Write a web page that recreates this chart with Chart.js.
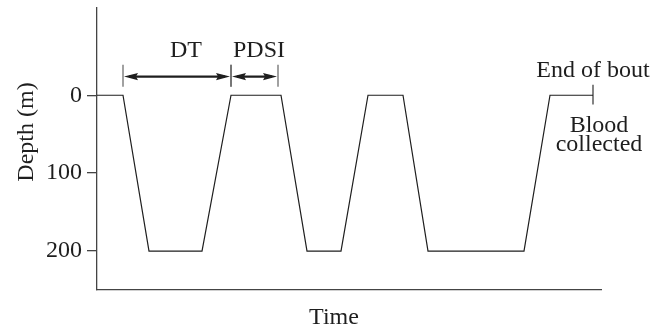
<!DOCTYPE html>
<html><head><meta charset="utf-8">
<script src="https://cdn.jsdelivr.net/npm/chart.js@4/dist/chart.umd.min.js"></script>
<style>html,body{margin:0;padding:0;background:#fff}</style>
</head><body>
<canvas id="c" width="666" height="329"></canvas>
<script>
// ---- data ----
const timePoints  = [0, 26, 52, 105, 134, 184, 210, 244, 271, 306, 331, 427, 453, 496];
const depthValues = [0, 0, 200, 200, 0, 0, 200, 200, 0, 0, 200, 200, 0, 0];
const depthTicks  = [0, 100, 200];
const intervalLabels = ['DT', 'PDSI'];
const intervalStarts = [26, 134];
const intervalEnds   = [134, 181];
const endLabel   = 'End of bout';
const bloodLines = ['Blood', 'collected'];
const yTitle = 'Depth (m)';
const xTitle = 'Time';

// ---- annotation placement (data units) ----
const arrowDepth = -24, barTop = -39, barBottom = -11;
const intervalLabelX = [89, 162], intervalLabelBase = -49;
const endTickX = 496, endTickTop = -13.5, endTickBottom = 12;
const endLabelX = 496, endLabelBase = -24;
const bloodX = 502, bloodBases = [47, 72];

const FONT = '"Liberation Serif", "Times New Roman", serif';
const INK = '#1e1e1e';

const annot = {
  id: 'annot',
  afterDraw(chart) {
    const {ctx, scales: {x, y}} = chart;
    ctx.save();
    ctx.strokeStyle = INK; ctx.fillStyle = INK;
    const ay = y.getPixelForValue(arrowDepth);
    const bt = y.getPixelForValue(barTop), bb = y.getPixelForValue(barBottom);
    const head = (px, dir) => {
      ctx.beginPath();
      ctx.moveTo(px, ay);
      ctx.lineTo(px - dir * 14, ay - 3.6);
      ctx.lineTo(px - dir * 12, ay);
      ctx.lineTo(px - dir * 14, ay + 3.6);
      ctx.closePath(); ctx.fill();
    };
    intervalStarts.forEach((s, i) => {
      const x1 = x.getPixelForValue(s), x2 = x.getPixelForValue(intervalEnds[i]);
      ctx.strokeStyle = '#555';
      ctx.lineWidth = 1.1;
      ctx.beginPath();
      ctx.moveTo(x1, bt); ctx.lineTo(x1, bb);
      ctx.moveTo(x2, bt); ctx.lineTo(x2, bb);
      ctx.stroke();
      ctx.strokeStyle = INK;
      ctx.lineWidth = 2.2;
      ctx.beginPath(); ctx.moveTo(x1 + 6, ay); ctx.lineTo(x2 - 6, ay); ctx.stroke();
      head(x1 + 1, -1); head(x2 - 1, 1);
      ctx.font = '24px ' + FONT; ctx.textAlign = 'center'; ctx.textBaseline = 'alphabetic';
      ctx.fillText(intervalLabels[i], x.getPixelForValue(intervalLabelX[i]), y.getPixelForValue(intervalLabelBase));
    });
    // end-of-bout tick
    ctx.lineWidth = 1.1;
    const ex = x.getPixelForValue(endTickX);
    ctx.beginPath(); ctx.moveTo(ex, y.getPixelForValue(endTickTop)); ctx.lineTo(ex, y.getPixelForValue(endTickBottom)); ctx.stroke();
    ctx.font = '24px ' + FONT; ctx.textAlign = 'center'; ctx.textBaseline = 'alphabetic';
    ctx.fillText(endLabel, x.getPixelForValue(endLabelX), y.getPixelForValue(endLabelBase));
    bloodLines.forEach((t, i) => ctx.fillText(t, x.getPixelForValue(bloodX), y.getPixelForValue(bloodBases[i])));
    // axis titles
    ctx.fillText(xTitle, 334, 324);
    ctx.save();
    ctx.translate(27, 132); ctx.rotate(-Math.PI / 2);
    ctx.textBaseline = 'middle';
    ctx.fillText(yTitle, 0, 0);
    ctx.restore();
    ctx.restore();
  }
};

new Chart(document.getElementById('c'), {
  type: 'line',
  data: {
    datasets: [{
      data: timePoints.map((t, i) => ({x: t, y: depthValues[i]})),
      borderColor: INK, borderWidth: 1.2, pointRadius: 0, tension: 0, fill: false
    }]
  },
  options: {
    responsive: false, animation: false, devicePixelRatio: 1,
    layout: {padding: {top: 8, right: 65, bottom: 0, left: 0}},
    plugins: {legend: {display: false}, tooltip: {enabled: false}},
    scales: {
      x: {
        type: 'linear', min: 0, max: 504,
        grid: {display: false},
        border: {display: true, color: '#444', width: 1.3},
        ticks: {display: false},
        afterFit: s => { s.height = 39; s.paddingLeft = 0; s.paddingRight = 0; }
      },
      y: {
        type: 'linear', reverse: true, min: -112, max: 250,
        afterBuildTicks: s => { s.ticks = depthTicks.map(v => ({value: v})); },
        grid: {display: true, drawOnChartArea: false, drawTicks: true, tickLength: 10, color: '#444', lineWidth: 1.3},
        border: {display: true, color: '#444', width: 1.3},
        ticks: {color: INK, padding: 5, font: {family: FONT, size: 24}},
        afterFit: s => { s.width = 97; s.paddingTop = 0; s.paddingBottom = 0; }
      }
    }
  },
  plugins: [annot]
});
</script>
</body></html>
